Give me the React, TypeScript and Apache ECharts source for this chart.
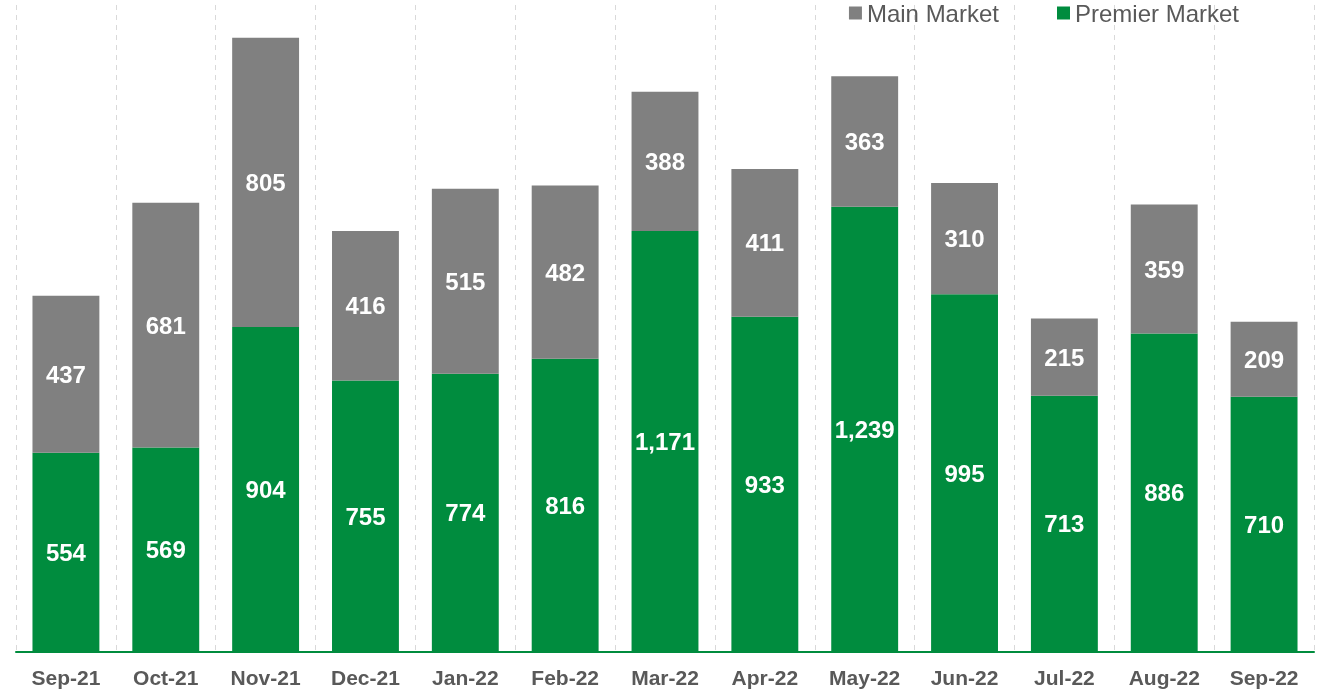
import React, { useEffect, useRef } from "react";
import * as echarts from "echarts";

const categories = ["Sep-21", "Oct-21", "Nov-21", "Dec-21", "Jan-22", "Feb-22", "Mar-22", "Apr-22", "May-22", "Jun-22", "Jul-22", "Aug-22", "Sep-22"];
const premierMarket = [554, 569, 904, 755, 774, 816, 1171, 933, 1239, 995, 713, 886, 710];
const mainMarket = [437, 681, 805, 416, 515, 482, 388, 411, 363, 310, 215, 359, 209];

const FONT = "'Liberation Sans', Arial, sans-serif";
const fmt = (p: any) => Number(p.value).toLocaleString("en-US");

export default function App() {
  const ref = useRef<HTMLDivElement>(null);
  useEffect(() => {
    if (!ref.current) return;
    const chart = echarts.init(ref.current, undefined, { renderer: "svg" });
    const labelStyle = {
      show: true,
      position: "inside",
      color: "#ffffff",
      fontSize: 24,
      fontWeight: "bold",
      fontFamily: FONT,
      formatter: fmt,
    };
    chart.setOption({
      animation: false,
      textStyle: { fontFamily: FONT },
      legend: {
        right: 83,
        top: 1,
        padding: 0,
        icon: "rect",
        itemWidth: 13,
        itemHeight: 13,
        itemGap: 58,
        textStyle: { color: "#595959", fontSize: 24, fontFamily: FONT },
        data: ["Main Market", "Premier Market"],
      },
      grid: { left: 16, right: 8, top: 5, bottom: 41, containLabel: false },
      xAxis: {
        type: "category",
        data: categories,
        axisLine: { show: true, lineStyle: { color: "#008C3E", width: 2 } },
        axisTick: { show: false },
        axisLabel: { color: "#595959", fontSize: 21, fontWeight: "bold", fontFamily: FONT, margin: 15, interval: 0 },
        splitLine: { show: true, interval: 0, lineStyle: { color: "#d9d9d9", type: [5, 5], width: 1 } },
      },
      yAxis: {
        type: "value",
        min: 0,
        max: 1800,
        show: false,
        splitLine: { show: false },
      },
      series: [
        {
          name: "Premier Market",
          type: "bar",
          stack: "total",
          barWidth: "67%",
          data: premierMarket,
          itemStyle: { color: "#008C3E" },
          label: labelStyle,
        },
        {
          name: "Main Market",
          type: "bar",
          stack: "total",
          barWidth: "67%",
          data: mainMarket,
          itemStyle: { color: "#808080" },
          label: labelStyle,
        },
      ],
    });
    return () => chart.dispose();
  }, []);
  return <div ref={ref} style={{ position: "fixed", left: 0, top: 0, width: 1322, height: 693 }} />;
}
